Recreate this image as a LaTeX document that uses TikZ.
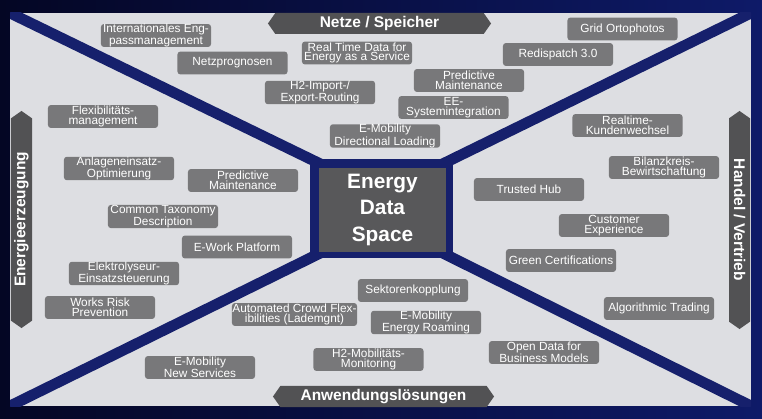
\documentclass[tikz,border=0pt]{standalone}
\usepackage{fontspec}
\setmainfont{Liberation Sans}
\usetikzlibrary{shapes.symbols}
\definecolor{night}{RGB}{4,6,36}
\definecolor{navy}{RGB}{14,26,104}
\definecolor{bandblue}{RGB}{22,32,108}
\definecolor{panelgrey}{RGB}{221,222,226}
\definecolor{itemgrey}{RGB}{120,120,122}
\definecolor{coregrey}{RGB}{88,88,90}
\definecolor{bannergrey}{RGB}{82,82,84}
\tikzset{
  item/.style={fill=itemgrey, text=white, rounded corners=2pt, inner sep=0pt,
    minimum width=2.75cm, minimum height=0.57cm, align=center,
    font=\fontsize{8.4}{6.9}\selectfont},
  banner/.style={signal, signal to=west and east, signal pointer angle=110,
    fill=bannergrey, text=white, inner sep=0pt, minimum height=0.525cm,
    font=\fontsize{11}{11}\selectfont\bfseries},
  band/.style={draw=bandblue, line width=0.27cm, shorten >=-0.3cm}
}
\begin{document}
\begin{tikzpicture}[x=0.025cm, y=-0.025cm]
\useasboundingbox (0,0) rectangle (762,419);
\shade[left color=night, right color=navy] (0,0) rectangle (762,419);
\fill[panelgrey] (10,13) rectangle (751,406);
\coordinate (tl) at (10,13);
\coordinate (tr) at (751,13);
\coordinate (bl) at (10,406);
\coordinate (br) at (751,406);
\node[fill=bandblue, inner sep=0pt, minimum width=3.575cm, minimum height=2.475cm] (frame) at (381.5,208.5) {};
\begin{scope}
  \clip (tl) rectangle (br);
  \draw[band] (tl) -- (frame.north west);
  \draw[band] (tr) -- (frame.north east);
  \draw[band] (bl) -- (frame.south west);
  \draw[band] (br) -- (frame.south east);
\end{scope}
\node[fill=coregrey, text=white, inner sep=0pt, minimum width=3.175cm, minimum height=2.1cm,
  align=center, font=\fontsize{14.8}{18.6}\selectfont\bfseries] (core) at (382.5,210) {Energy\\Data\\Space};

\node[item] (intl) at (156,35.5) {Internationales Eng-\\passmanagement};
\node[item] (netzprog) at (232.5,63) {Netzprognosen};
\node[item] (realtime) at (357,53) {Real Time Data for\\Energy as a Service};
\node[item] (hzimport) at (320,92.5) {H2-Import-/\\Export-Routing};
\node[item] (gridortho) at (622.5,29) {Grid Ortophotos};
\node[item] (redispatch) at (558,54.5) {Redispatch 3.0};
\node[item] (predtop) at (469,80.5) {Predictive\\Maintenance};
\node[item] (eesys) at (453.5,107.5) {EE-\\Systemintegration};
\node[item] (emobdir) at (385,136) {E-Mobility\\Directional Loading};
\node[item] (flex) at (103,116.5) {Flexibilitäts-\\management};
\node[item] (kundenw) at (627.5,125.5) {Realtime-\\Kundenwechsel};
\node[item] (anlagen) at (119,168.5) {Anlageneinsatz-\\Optimierung};
\node[item] (predleft) at (243,180.5) {Predictive\\Maintenance};
\node[item] (taxonomy) at (163,216.5) {Common Taxonomy\\Description};
\node[item] (ework) at (237,247) {E-Work Platform};
\node[item] (elektro) at (124,273.5) {Elektrolyseur-\\Einsatzsteuerung};
\node[item] (bilanz) at (664,167.5) {Bilanzkreis-\\Bewirtschaftung};
\node[item] (trusted) at (529,189.5) {Trusted Hub};
\node[item] (customer) at (614,225.5) {Customer\\Experience};
\node[item] (green) at (561,260.5) {Green Certifications};
\node[item] (worksrisk) at (100,307.5) {Works Risk\\Prevention};
\node[item, minimum width=3.125cm] (crowd) at (294.5,314.5) {Automated Crowd Flex-\\ibilities (Lademgnt)};
\node[item] (emobnew) at (200,367.5) {E-Mobility\\New Services};
\node[item] (sektor) at (413,290.5) {Sektorenkopplung};
\node[item] (roaming) at (426,322.5) {E-Mobility\\Energy Roaming};
\node[item] (hzmonitor) at (368.5,359.5) {H2-Mobilitäts-\\Monitoring};
\node[item] (algo) at (659,308.5) {Algorithmic Trading};
\node[item] (opendata) at (544,352.5) {Open Data for\\Business Models};

\node[banner, minimum width=5.575cm] (netze) at (379.5,23.5) {Netze / Speicher};
\node[banner, minimum width=5.525cm] (anwendung) at (383.5,396.5) {Anwendungslösungen};
\node[banner, minimum width=5.425cm, rotate=90] (erzeugung) at (21.5,219.5) {Energieerzeugung};
\node[banner, minimum width=5.45cm, rotate=-90] (handel) at (739.5,220) {Handel / Vertrieb};
\end{tikzpicture}
\end{document}
